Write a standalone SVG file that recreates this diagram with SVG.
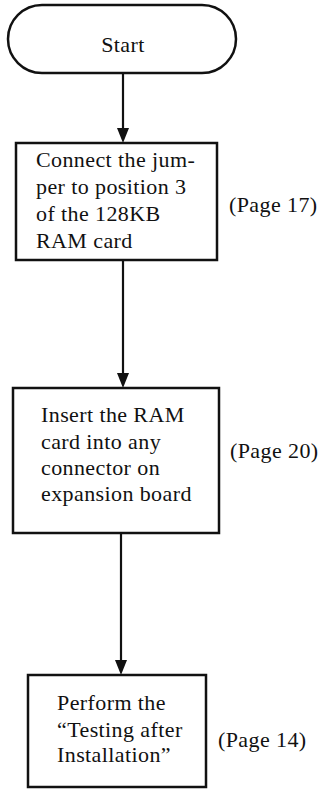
<svg xmlns="http://www.w3.org/2000/svg" width="320" height="789" viewBox="0 0 320 789">
<style>
.box{fill:#fff;stroke:#111;stroke-width:2.5}
.t{font-family:"Liberation Serif","Times New Roman",serif;font-size:22px;letter-spacing:0.4px;fill:#111}
.c{stroke:#111;stroke-width:2.2;fill:none}
.ah{fill:#111}
</style>
<rect width="320" height="789" fill="#fff"/>
<g id="connectors">
<line class="c" x1="123" y1="73" x2="123" y2="130"/>
<path class="ah" d="M117,128 L129,128 L123,143 Z"/>
<line class="c" x1="123" y1="261" x2="123" y2="375"/>
<path class="ah" d="M117,373 L129,373 L123,388 Z"/>
<line class="c" x1="121" y1="534" x2="121" y2="662"/>
<path class="ah" d="M115,660 L127,660 L121,675 Z"/>
</g>
<g id="start">
<rect class="box" x="8" y="5" width="228" height="68" rx="34" ry="34"/>
<text class="t" x="123" y="52" text-anchor="middle">Start</text>
</g>
<g id="step1">
<rect class="box" x="16" y="143" width="201" height="117"/>
<text class="t" x="36" y="167">Connect the jum-</text>
<text class="t" x="36" y="194">per to position 3</text>
<text class="t" x="36" y="221">of the 128KB</text>
<text class="t" x="36" y="248">RAM card</text>
<text class="t" x="229" y="212">(Page 17)</text>
</g>
<g id="step2">
<rect class="box" x="13" y="388" width="206" height="145"/>
<text class="t" x="41" y="422">Insert the RAM</text>
<text class="t" x="41" y="449">card into any</text>
<text class="t" x="41" y="475">connector on</text>
<text class="t" x="41" y="501">expansion board</text>
<text class="t" x="230" y="458">(Page 20)</text>
</g>
<g id="step3">
<rect class="box" x="28" y="675" width="178" height="112"/>
<text class="t" x="57" y="710">Perform the</text>
<text class="t" x="57" y="737">“Testing after</text>
<text class="t" x="57" y="762">Installation”</text>
<text class="t" x="218" y="747">(Page 14)</text>
</g>
</svg>
